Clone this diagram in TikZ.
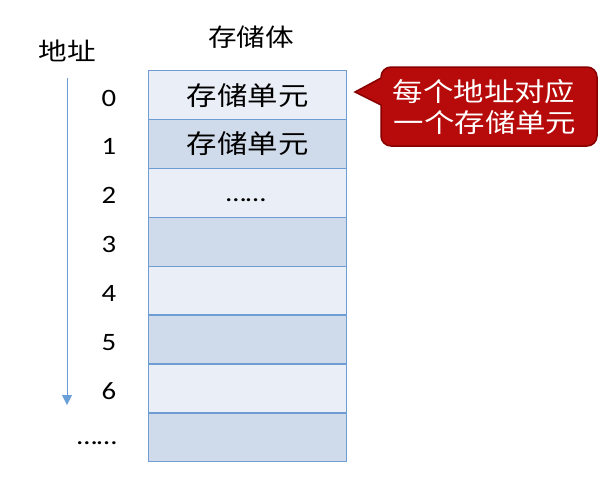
\documentclass[tikz,border=0pt]{standalone}
\usepackage{fontspec}
\newfontfamily\cjk[FakeStretch=1.17]{Noto Sans CJK SC}
\newfontfamily\lat[FakeStretch=1.15]{Carlito}
\definecolor{rowlight}{HTML}{E9EEF7}
\definecolor{rowdark}{HTML}{CFDAEA}
\definecolor{rowline}{HTML}{6E9CD3}
\definecolor{arrowblue}{HTML}{6A9FD8}
\definecolor{calloutfill}{HTML}{B70A0A}
\definecolor{calloutline}{HTML}{860000}
\begin{document}
\begin{tikzpicture}[x=1pt,y=-1pt,
  cell/.style={draw=rowline,line width=1.4pt,minimum width=198pt,minimum height=48.875pt,anchor=north west,inner sep=0pt},
  light/.style={cell,fill=rowlight},
  dark/.style={cell,fill=rowdark},
  celltext/.style={font=\cjk\fontsize{26}{30}\selectfont,text=black,inner sep=0pt},
  head/.style={font=\cjk\fontsize{24.5}{28}\selectfont,text=black,inner sep=0pt},
  num/.style={font=\lat\fontsize{25}{30}\selectfont,text=black,inner sep=0pt,anchor=base},
  callouttext/.style={font=\cjk\fontsize{26}{30}\selectfont,text=white,inner sep=0pt}]
\useasboundingbox (0,0) rectangle (601,479);
% rows
\node[light] (r0) at (148,70) {};
\node[dark]  (r1) at (148,118.875) {};
\node[light] (r2) at (148,167.75) {};
\node[dark]  (r3) at (148,216.625) {};
\node[light] (r4) at (148,265.5) {};
\node[dark]  (r5) at (148,314.375) {};
\node[light] (r6) at (148,363.25) {};
\node[dark]  (r7) at (148,412.125) {};
% cell texts
\node[celltext] (t0) at (r0.center) {存储单元};
\node[celltext] (t1) at (r1.center) {存储单元};
\node[num] (t2) at (246,201.5) {……};
% headers
\node[head] (hbody) at (251,37) {存储体};
\node[head] (haddr) at (67,51) {地址};
% address numbers
\node[num] (n0) at (109,106) {0};
\node[num] (n1) at (109,154.9) {1};
\node[num] (n2) at (109,203.8) {2};
\node[num] (n3) at (109,252.6) {3};
\node[num] (n4) at (109,301.5) {4};
\node[num] (n5) at (109,350.4) {5};
\node[num] (n6) at (109,399.3) {6};
\node[num] (n7) at (97,444.5) {……};
% address arrow
\coordinate (atop) at (67,78);
\coordinate (abot) at (67,405);
\draw[arrowblue,line width=1pt] (atop) -- (67,396);
\fill[arrowblue] (62,395) -- (72,395) -- (abot) -- cycle;
% callout
\draw[calloutline,fill=calloutfill,line width=1.5pt]
  (381,78) -- (355,92) -- (381,105) -- (381,136)
  arc[start angle=180,end angle=90,radius=10] -- (587,146)
  arc[start angle=90,end angle=0,radius=10] -- (597,77)
  arc[start angle=0,end angle=-90,radius=10] -- (391,67)
  arc[start angle=-90,end angle=-180,radius=10] -- cycle;
\node[callouttext] (c1) at (484,91.5) {每个地址对应};
\node[callouttext] (c2) at (485,122.5) {一个存储单元};
\end{tikzpicture}
\end{document}
